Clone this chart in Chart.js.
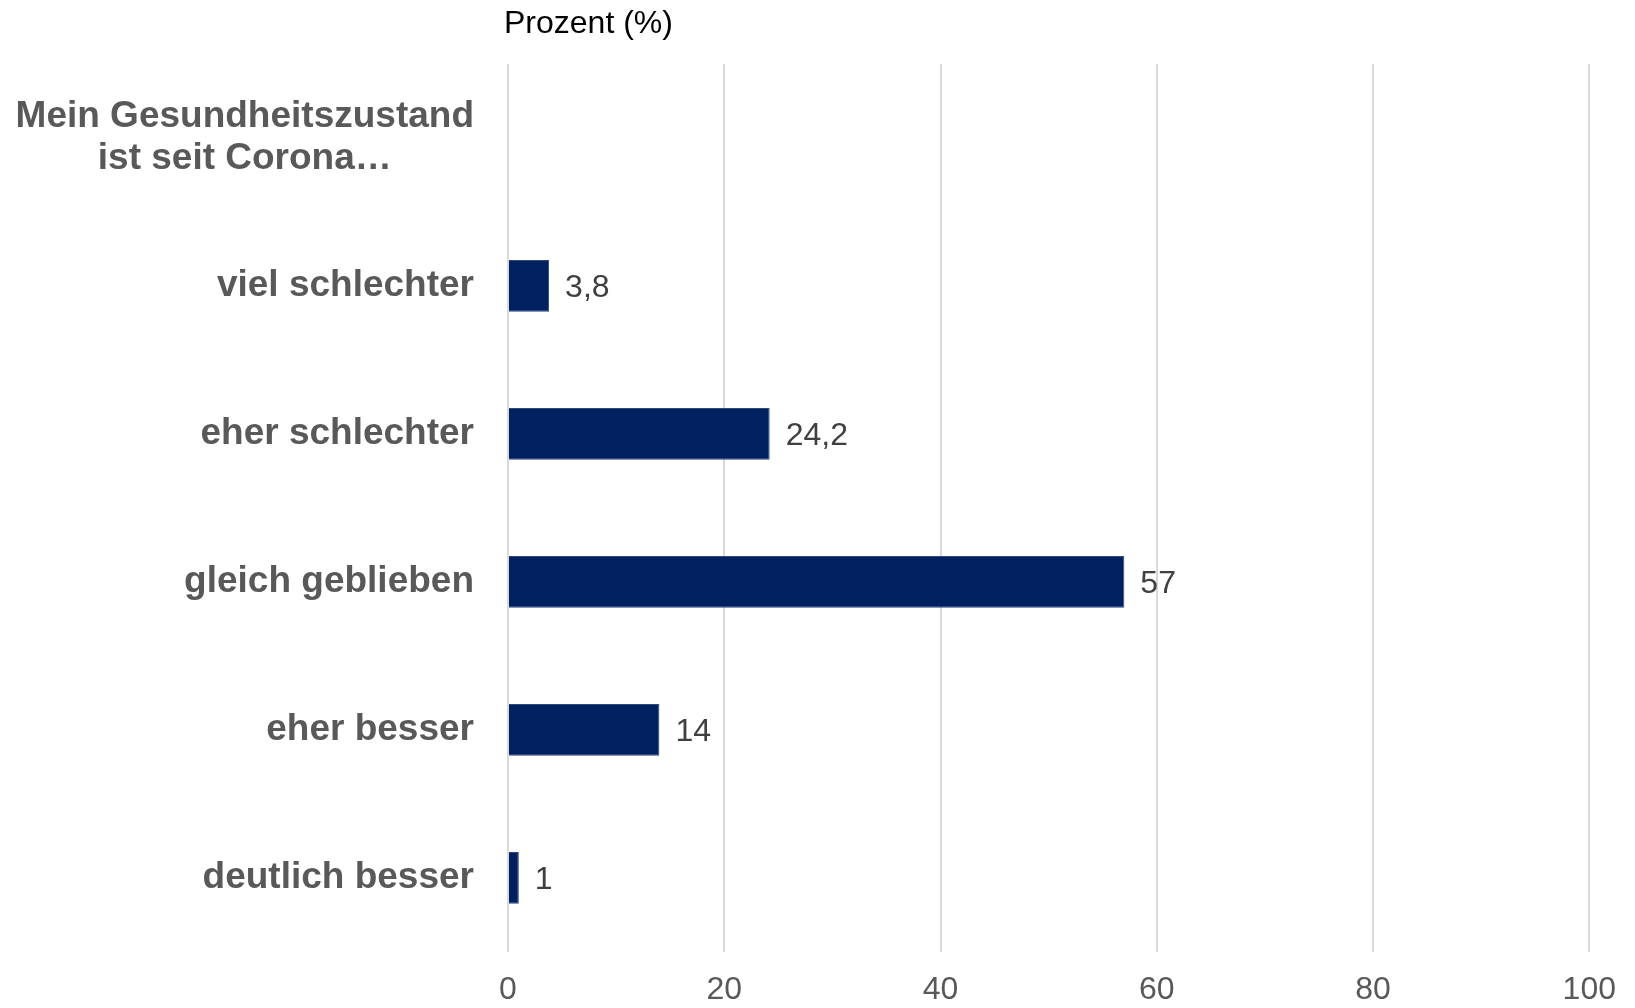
<!DOCTYPE html>
<html>
<head>
<meta charset="utf-8">
<script src="https://cdn.jsdelivr.net/npm/chart.js@4"></script>
<style>
    body { margin: 0; background: #fff; }
    #wrap { width: 1635px; height: 1008px; position: relative; }
</style>
</head>
<body>
<div id="wrap"><canvas id="myChart"></canvas></div>
<script>
const headerLines = ['Mein Gesundheitszustand', 'ist seit Corona…'];
const categories = ['viel schlechter', 'eher schlechter', 'gleich geblieben', 'eher besser', 'deutlich besser'];
const values = [3.8, 24.2, 57, 14, 1];
const xTicks = [0, 20, 40, 60, 80, 100];
const axisTitle = 'Prozent (%)';

const fontFamily = '"Liberation Sans", Arial, sans-serif';

// the header sits in the first category row, without a bar
const labels = [headerLines, ...categories];
const data = [null, ...values];

const labelPlugin = {
    id: 'extraText',
    afterDatasetsDraw: (chart) => {
        const { ctx, chartArea } = chart;
        const yScale = chart.scales.y;
        ctx.save();

        // value labels next to the bars
        ctx.font = '32px ' + fontFamily;
        ctx.fillStyle = '#404040';
        ctx.textAlign = 'left';
        ctx.textBaseline = 'middle';
        chart.getDatasetMeta(0).data.forEach((bar, i) => {
            if (data[i] === null) return;
            ctx.fillText(String(data[i]).replace('.', ','), bar.x + 16, bar.y + 2);
        });

        // header, centred block ending at the label column
        ctx.font = 'bold 37px ' + fontFamily;
        ctx.fillStyle = '#595959';
        ctx.textAlign = 'center';
        const widths = headerLines.map(l => ctx.measureText(l).width);
        const cx = chartArea.left - 34 - Math.max(...widths) / 2;
        const cy = yScale.getPixelForValue(0);
        const lh = 42;
        headerLines.forEach((line, i) => {
            ctx.fillText(line, cx, cy + (i - (headerLines.length - 1) / 2) * lh);
        });

        // axis title above the plot
        ctx.font = '32px ' + fontFamily;
        ctx.fillStyle = '#000';
        ctx.textAlign = 'left';
        ctx.fillText(axisTitle, chartArea.left - 4, 24);
        ctx.restore();
    }
};

new Chart(document.getElementById('myChart'), {
    type: 'bar',
    data: {
        labels: labels,
        datasets: [{
            data: data,
            backgroundColor: '#002060',
            borderColor: '#2c4a80',
            borderWidth: 1,
            barPercentage: 0.35,
            categoryPercentage: 1
        }]
    },
    options: {
        indexAxis: 'y',
        responsive: true,
        maintainAspectRatio: false,
        animation: false,
        layout: {
            padding: { top: 64, right: 44, left: 0, bottom: 0 }
        },
        plugins: {
            legend: { display: false },
            tooltip: { enabled: false }
        },
        scales: {
            x: {
                min: 0,
                max: 100,
                afterBuildTicks: (scale) => {
                    scale.ticks = xTicks.map(v => ({ value: v }));
                },
                afterFit: (scale) => { scale.height = 54; },
                border: { display: false },
                grid: { color: '#d9d9d9', lineWidth: 2, drawTicks: false },
                ticks: {
                    padding: 19,
                    color: '#595959',
                    font: { family: fontFamily, size: 32 }
                }
            },
            y: {
                afterFit: (scale) => { scale.width = 508; },
                border: { display: false },
                grid: { display: false, drawTicks: false },
                ticks: {
                    padding: 34,
                    color: '#595959',
                    font: { family: fontFamily, size: 37, weight: 'bold' },
                    callback: (val, i) => i === 0 ? '' : categories[i - 1]
                }
            }
        }
    },
    plugins: [labelPlugin]
});
</script>
</body>
</html>
